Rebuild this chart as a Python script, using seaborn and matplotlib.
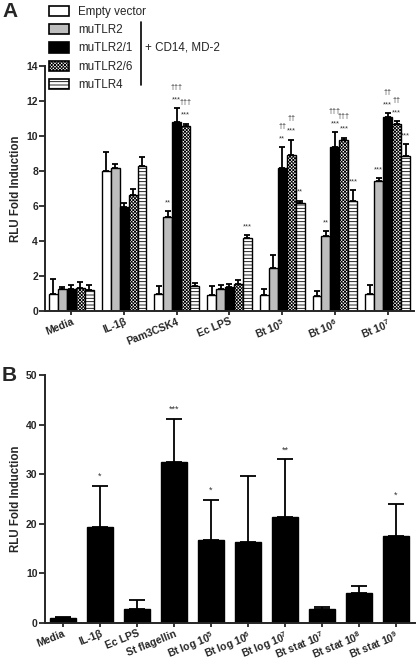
import numpy as np
import pandas as pd
import matplotlib
matplotlib.use("Agg")
import matplotlib.pyplot as plt
from matplotlib.patches import Patch
from matplotlib.lines import Line2D
from matplotlib.container import BarContainer
import seaborn as sns

# ---------------- data ----------------
cats_A = ["Media", "IL-1β", "Pam3CSK4", "Ec LPS",
          "Bt 10$^{5}$", "Bt 10$^{6}$", "Bt 10$^{7}$"]
hues_A = ["Empty vector", "muTLR2", "muTLR2/1", "muTLR2/6", "muTLR4"]

empty_vec = [1.0, 8.0, 1.0, 0.9, 0.9, 0.85, 1.0]
mu_tlr2 = [1.25, 8.15, 5.4, 1.25, 2.45, 4.3, 7.45]
mu_tlr21 = [1.25, 5.95, 10.8, 1.4, 8.2, 9.4, 11.1]
mu_tlr26 = [1.3, 6.65, 10.6, 1.55, 8.9, 9.8, 10.7]
mu_tlr4 = [1.2, 8.3, 1.45, 4.2, 6.2, 6.3, 8.85]

err_empty = [0.85, 1.1, 0.45, 0.55, 0.38, 0.3, 0.5]
err_tlr2 = [0.12, 0.25, 0.3, 0.25, 0.75, 0.25, 0.15]
err_tlr21 = [0.25, 0.25, 0.8, 0.12, 1.15, 0.8, 0.2]
err_tlr26 = [0.35, 0.3, 0.1, 0.25, 0.9, 0.1, 0.15]
err_tlr4 = [0.3, 0.5, 0.17, 0.13, 0.1, 0.6, 0.7]

# significance (category index, hue index, stars, daggers)
sig_A = [
    (2, 1, "**", ""), (2, 2, "***", "†††"), (2, 3, "***", "†††"),
    (3, 4, "***", ""),
    (4, 2, "**", "††"), (4, 3, "***", "††"), (4, 4, "**", ""),
    (5, 1, "**", ""), (5, 2, "***", "†††"), (5, 3, "***", "†††"), (5, 4, "***", ""),
    (6, 1, "***", ""), (6, 2, "***", "††"), (6, 3, "***", "††"), (6, 4, "***", ""),
]

cats_B = ["Media", "IL-1β", "Ec LPS", "St flagellin",
          "Bt log 10$^{5}$", "Bt log 10$^{6}$", "Bt log 10$^{7}$",
          "Bt stat 10$^{7}$", "Bt stat 10$^{8}$", "Bt stat 10$^{9}$"]
vals_B = [1.1, 19.4, 2.8, 32.5, 16.7, 16.3, 21.4, 2.9, 6.1, 17.6]
err_B = [0.2, 8.3, 1.9, 8.6, 8.1, 13.4, 11.6, 0.4, 1.4, 6.3]
stars_B = ["", "*", "", "***", "*", "", "**", "", "", "*"]

yticks_A = [0, 2, 4, 6, 8, 10, 12, 14]
yticks_B = [0, 10, 20, 30, 40, 50]

# ---------------- style ----------------
sns.set_theme(style="ticks")
plt.rcParams["font.family"] = ["Liberation Sans", "DejaVu Sans"]
plt.rcParams["mathtext.fontset"] = "custom"
plt.rcParams["mathtext.rm"] = "Liberation Sans:bold"
plt.rcParams["mathtext.default"] = "rm"
plt.rcParams["hatch.color"] = "black"
plt.rcParams["hatch.linewidth"] = 0.6

fills = ["white", "#bdbdbd", "black", "white", "white"]
hatches = [None, None, None, "xxxxxxxxxx", "-----"]

W, H = 416, 662
fig = plt.figure(figsize=(W / 100, H / 100), dpi=100)
axA = fig.add_axes([45 / W, 1 - 311 / H, (414 - 45) / W, (311 - 66) / H])
axB = fig.add_axes([44.5 / W, 1 - 623 / H, 370 / W, (623 - 375) / H])

# ---------------- panel A ----------------
series = [empty_vec, mu_tlr2, mu_tlr21, mu_tlr26, mu_tlr4]
errs = [err_empty, err_tlr2, err_tlr21, err_tlr26, err_tlr4]
rows = []
for h, vals in zip(hues_A, series):
    for c, v in zip(cats_A, vals):
        rows.append({"cat": c, "hue": h, "val": v})
dfA = pd.DataFrame(rows)

sns.barplot(data=dfA, x="cat", y="val", hue="hue", order=cats_A,
            hue_order=hues_A, palette=fills, width=0.85, errorbar=None,
            edgecolor="black", linewidth=1.0, saturation=1, legend=False,
            ax=axA)

bar_conts = [c for c in axA.containers if isinstance(c, BarContainer)]
tops = {}
for hi, cont in enumerate(bar_conts):
    for ci, p in enumerate(cont.patches):
        p.set_facecolor(fills[hi])
        if hatches[hi]:
            p.set_hatch(hatches[hi])
        x = p.get_x() + p.get_width() / 2
        h = p.get_height()
        e = errs[hi][ci]
        axA.errorbar(x, h, yerr=[[0], [e]], fmt="none", ecolor="black",
                     elinewidth=1.3, capsize=2.2, capthick=1.3, zorder=1)
        tops[(ci, hi)] = (x, h + e)

for ci, hi, st, dg in sig_A:
    x, t = tops[(ci, hi)]
    axA.text(x, t + 0.28, st, ha="center", va="bottom", fontsize=5.3,
             color="#333333")
    if dg:
        axA.text(x, t + 1.0, dg, ha="center", va="bottom", fontsize=5.3,
                 color="#333333")

axA.set_ylim(0, 14)
axA.set_xlim(-0.5, len(cats_A) - 0.5)
axA.set_yticks(yticks_A)
axA.set_ylabel("RLU Fold Induction", fontsize=8.3, fontweight="bold", labelpad=3)
axA.set_xlabel("")

# ---------------- panel B ----------------
dfB = pd.DataFrame({"cat": cats_B, "val": vals_B})
sns.barplot(data=dfB, x="cat", y="val", order=cats_B, color="black",
            width=0.7, errorbar=None, edgecolor="black", linewidth=1.0,
            saturation=1, ax=axB)
barsB = [c for c in axB.containers if isinstance(c, BarContainer)][0]
for ci, p in enumerate(barsB.patches):
    x = p.get_x() + p.get_width() / 2
    h = p.get_height()
    e = err_B[ci]
    axB.errorbar(x, h, yerr=[[0], [e]], fmt="none", ecolor="black",
                 elinewidth=1.3, capsize=6, capthick=1.3, zorder=1)
    if stars_B[ci]:
        axB.text(x, h + e + 1.0, stars_B[ci], ha="center", va="bottom",
                 fontsize=6.5, color="#333333")

axB.set_ylim(0, 50)
axB.set_xlim(-0.5, len(cats_B) - 0.5)
axB.set_yticks(yticks_B)
axB.set_ylabel("RLU Fold Induction", fontsize=8.3, fontweight="bold", labelpad=3)
axB.set_xlabel("")

for ax in (axA, axB):
    sns.despine(ax=ax)
    for s in ("left", "bottom"):
        ax.spines[s].set_linewidth(1.4)
    ax.tick_params(axis="y", length=4, width=1.3, labelsize=7.5, pad=1)
    ax.tick_params(axis="x", length=3, width=1.3, labelsize=7.5, pad=1)
    for lab in ax.get_yticklabels():
        lab.set_fontweight("bold")
    for lab in ax.get_xticklabels():
        lab.set_fontweight("bold")
        lab.set_rotation(22)
        lab.set_ha("right")
        lab.set_rotation_mode("anchor")

# ---------------- legend / annotations ----------------
handles = [Patch(facecolor=fills[i], edgecolor="black", hatch=hatches[i],
                 linewidth=1.2) for i in range(5)]
fig.legend(handles, hues_A, loc="upper left",
           bbox_to_anchor=(44 / W, 1 - 1 / H), frameon=False, fontsize=8.4,
           handlelength=1.7, handleheight=1.0, labelspacing=0.52,
           handletextpad=0.8, borderaxespad=0)
fig.add_artist(Line2D([141 / W, 141 / W], [1 - 22 / H, 1 - 85 / H],
                      color="black", linewidth=1.2))
fig.text(145 / W, 1 - 47 / H, "+ CD14, MD-2", fontsize=8.4, va="center",
         ha="left")

fig.text(2 / W, 1 - 2 / H, "A", fontsize=15, fontweight="bold", va="top")
fig.text(2 / W, 1 - 366 / H, "B", fontsize=15, fontweight="bold", va="top")

fig.savefig("out.png", dpi=100)
